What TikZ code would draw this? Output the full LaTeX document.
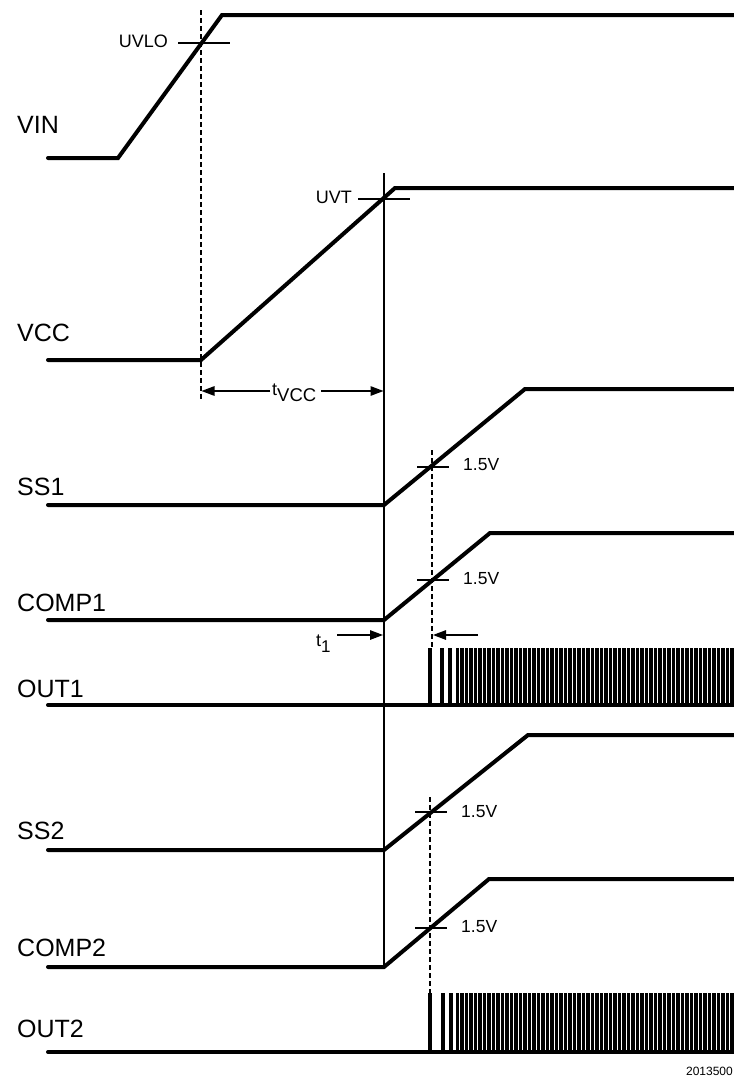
\documentclass[tikz,border=0pt]{standalone}
\usepackage{fontspec}
\setmainfont{Liberation Sans}
\usetikzlibrary{arrows.meta}
\begin{document}
\begin{tikzpicture}[x=1pt,y=-1pt,
  wave/.style={line width=4pt,line cap=round,line join=miter},
  thinline/.style={line width=1.3pt},
  vdashed/.style={line width=1.3pt,dash pattern=on 5pt off 3pt},
  sig/.style={font=\fontsize{25}{25}\selectfont,anchor=west,inner sep=0pt},
  lvl/.style={font=\fontsize{17.5}{17.5}\selectfont,anchor=west,inner sep=0pt},
  thr/.style={font=\fontsize{18}{18}\selectfont,anchor=east,inner sep=0pt},
  arr/.style={line width=1.3pt,-{Triangle[length=13pt,width=9.5pt]}},
  pulse/.style={fill=black}
]
\useasboundingbox (0,0) rectangle (734,1080);

% signal names
\node[sig] (nvin)   at (17,125)  {VIN};
\node[sig] (nvcc)   at (17,333)  {VCC};
\node[sig] (nss1)   at (17,487)  {SS1};
\node[sig] (ncomp1) at (17,603)  {COMP1};
\node[sig] (nout1)  at (17,689)  {OUT1};
\node[sig] (nss2)   at (17,831)  {SS2};
\node[sig] (ncomp2) at (17,948)  {COMP2};
\node[sig] (nout2)  at (17,1029) {OUT2};

% VIN
\coordinate (vin0) at (48,158);
\coordinate (vin1) at (118,158);
\coordinate (vin2) at (222,15);
\coordinate (vin3) at (740,15);
\draw[wave] (vin0) -- (vin1) -- (vin2) -- (vin3);
\coordinate (uvloL) at (178,43);
\coordinate (uvloR) at (230,43);
\draw[thinline] (uvloL) -- (uvloR);
\node[thr] (uvlo) at (168,41) {UVLO};
\coordinate (dA0) at (201,10);
\coordinate (dA1) at (201,401);
\draw[vdashed] (dA0) -- (dA1);

% VCC
\coordinate (vcc0) at (48,360);
\coordinate (vcc1) at (201,360);
\coordinate (vcc2) at (395,188);
\coordinate (vcc3) at (740,188);
\draw[wave] (vcc0) -- (vcc1) -- (vcc2) -- (vcc3);
\coordinate (uvtL) at (358,199);
\coordinate (uvtR) at (410,199);
\draw[thinline] (uvtL) -- (uvtR);
\node[thr] (uvt) at (352,197) {UVT};
\coordinate (vl0) at (384,173);
\coordinate (vl1) at (384,967);
\draw[thinline] (vl0) -- (vl1);

% t_VCC arrow
\node[anchor=base west,inner xsep=2pt,inner ysep=0pt] (tvcc) at (270,395)
  {\fontsize{18}{18}\selectfont t\raisebox{-6pt}{\fontsize{18.5}{18.5}\selectfont VCC}};
\coordinate (tvccL) at (201.5,391);
\coordinate (tvccR) at (383.5,391);
\draw[arr] (tvcc.west |- tvccL) -- (tvccL);
\draw[arr] ([xshift=3pt]tvcc.east |- tvccR) -- (tvccR);

% SS1
\coordinate (ss10) at (48,505);
\coordinate (ss11) at (384,505);
\coordinate (ss12) at (525,389);
\coordinate (ss13) at (740,389);
\draw[wave] (ss10) -- (ss11) -- (ss12) -- (ss13);
\coordinate (s1tL) at (417,467);
\coordinate (s1tR) at (449,467);
\draw[thinline] (s1tL) -- (s1tR);
\node[lvl] (l1) at (463,465) {1.5V};
\coordinate (dB0) at (432,450);
\coordinate (dB1) at (432,648);
\draw[vdashed] (dB0) -- (dB1);

% COMP1
\coordinate (c10) at (48,620);
\coordinate (c11) at (384,620);
\coordinate (c12) at (490,533);
\coordinate (c13) at (740,533);
\draw[wave] (c10) -- (c11) -- (c12) -- (c13);
\coordinate (c1tL) at (417,580);
\coordinate (c1tR) at (449,580);
\draw[thinline] (c1tL) -- (c1tR);
\node[lvl] (l2) at (463,579) {1.5V};

% t1 arrows
\node[anchor=base west,inner sep=0pt] (t1) at (316,646)
  {\fontsize{18}{18}\selectfont t\raisebox{-6pt}{\fontsize{17}{17}\selectfont 1}};
\coordinate (t1a0) at (337,635);
\coordinate (t1a1) at (383,635);
\coordinate (t1b0) at (478,635);
\coordinate (t1b1) at (433,635);
\draw[arr] (t1a0) -- (t1a1);
\draw[arr] (t1b0) -- (t1b1);

% OUT1
\coordinate (o10) at (48,705);
\coordinate (o11) at (740,705);
\draw[wave] (o10) -- (o11);
\foreach \x in {428,440,448} {\fill[pulse] (\x,648) rectangle ({\x+4},705);}
\foreach \i in {0,...,62} {\fill[pulse] ({455.5+4.5*\i},648) rectangle ({459.2+4.5*\i},705);}

% SS2
\coordinate (ss20) at (48,850);
\coordinate (ss21) at (384,850);
\coordinate (ss22) at (528,735);
\coordinate (ss23) at (740,735);
\draw[wave] (ss20) -- (ss21) -- (ss22) -- (ss23);
\coordinate (s2tL) at (415,812);
\coordinate (s2tR) at (447,812);
\draw[thinline] (s2tL) -- (s2tR);
\node[lvl] (l3) at (461,812) {1.5V};
\coordinate (dC0) at (430,797);
\coordinate (dC1) at (430,993);
\draw[vdashed] (dC0) -- (dC1);

% COMP2
\coordinate (c20) at (48,967);
\coordinate (c21) at (384,967);
\coordinate (c22) at (489,879);
\coordinate (c23) at (740,879);
\draw[wave] (c20) -- (c21) -- (c22) -- (c23);
\coordinate (c2tL) at (415,928);
\coordinate (c2tR) at (447,928);
\draw[thinline] (c2tL) -- (c2tR);
\node[lvl] (l4) at (461,927) {1.5V};

% OUT2
\coordinate (o20) at (48,1052);
\coordinate (o21) at (740,1052);
\draw[wave] (o20) -- (o21);
\foreach \x in {428,441,449} {\fill[pulse] (\x,993) rectangle ({\x+4},1052);}
\foreach \i in {0,...,62} {\fill[pulse] ({455.5+4.5*\i},993) rectangle ({459.2+4.5*\i},1052);}

% figure number
\node[anchor=east,inner sep=0pt,font=\fontsize{12}{12}\selectfont] (fig) at (733,1071) {2013500};
\end{tikzpicture}
\end{document}
